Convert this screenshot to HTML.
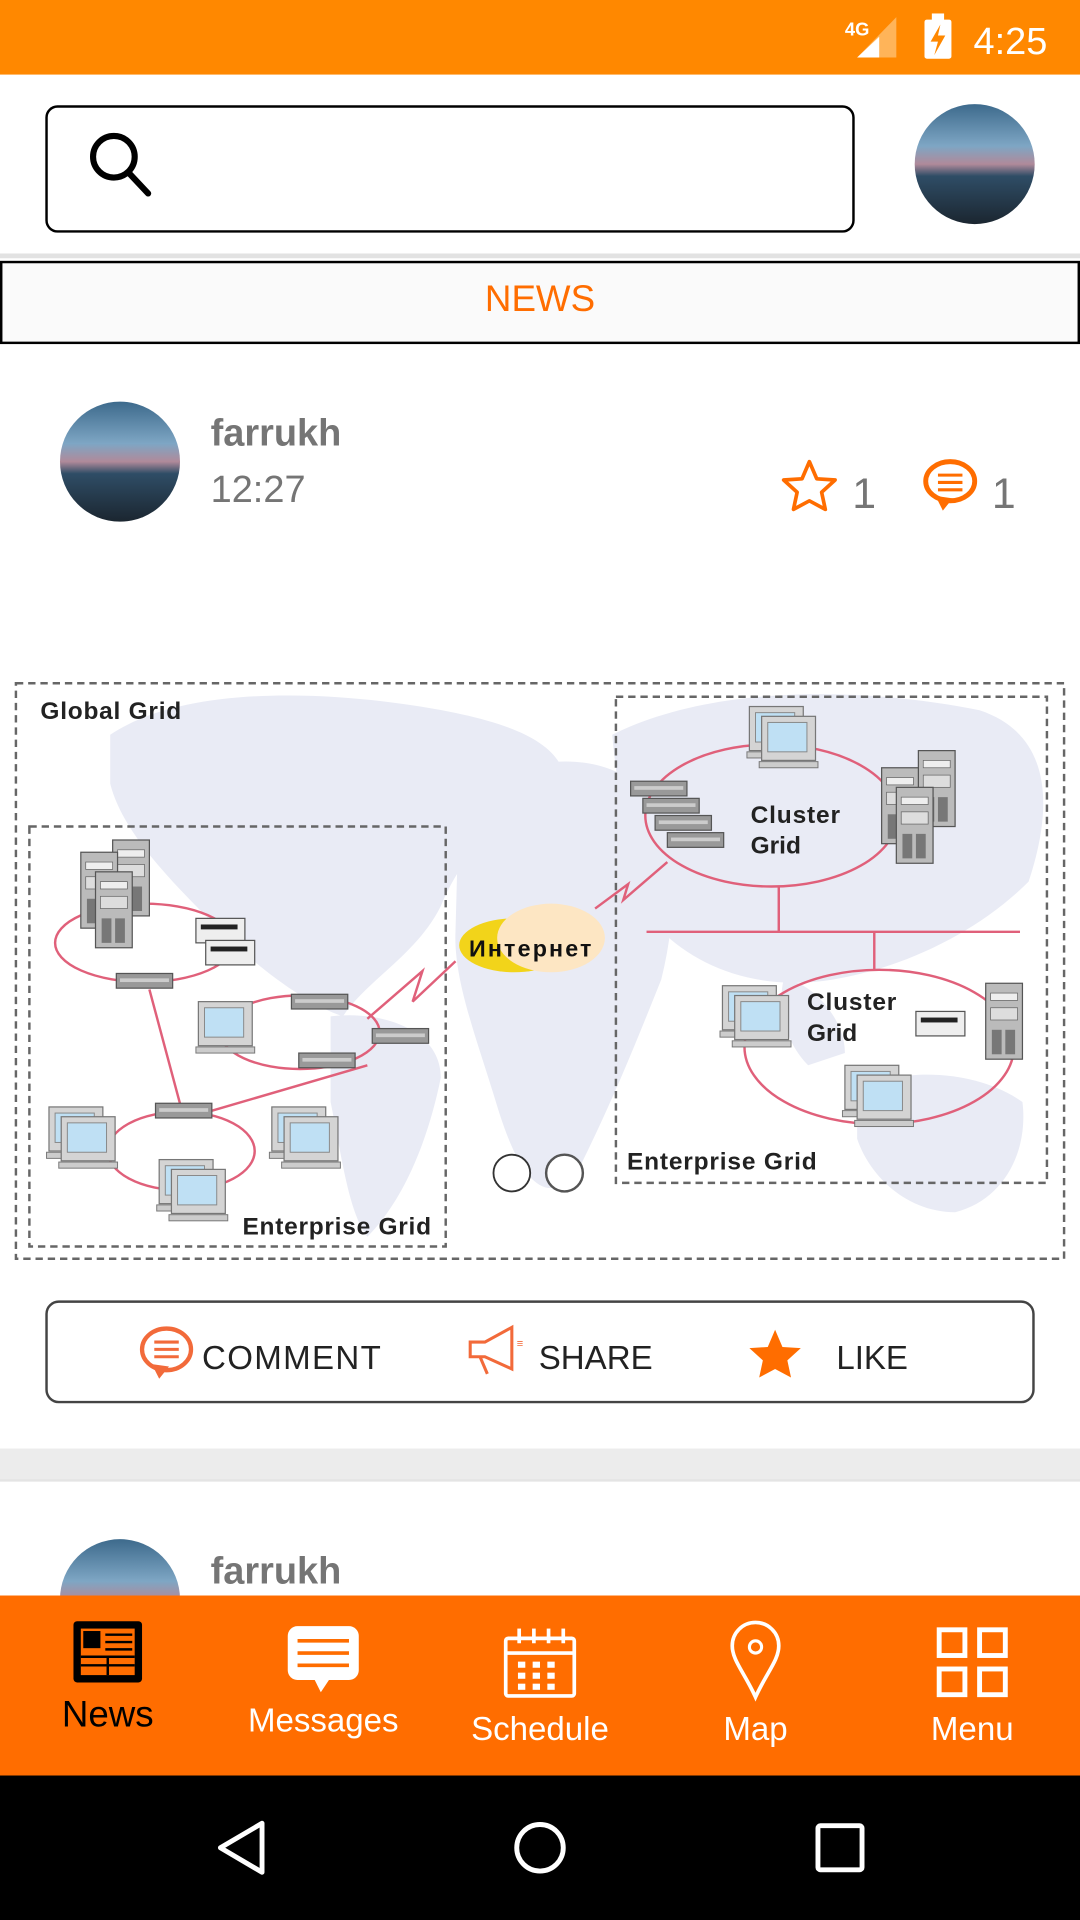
<!DOCTYPE html>
<html><head><meta charset="utf-8"><style>
html,body{margin:0;padding:0;width:1080px;height:1920px;overflow:hidden;background:#fff}
svg{display:block}
text{font-family:"Liberation Sans",sans-serif}
</style></head><body>
<svg width="1080" height="1920" viewBox="0 0 882 1568" xmlns="http://www.w3.org/2000/svg">
<defs>
<linearGradient id="av" x1="0" y1="0" x2="0" y2="1">
<stop offset="0" stop-color="#3d6a8c"/><stop offset="0.35" stop-color="#7ea6c4"/><stop offset="0.5" stop-color="#b08a9a"/><stop offset="0.6" stop-color="#2f4d66"/><stop offset="1" stop-color="#1b2630"/>
</linearGradient>
<g id="pc">
<rect x="0" y="0" width="44" height="36" fill="#d4d4d4" stroke="#777" stroke-width="1"/>
<rect x="5" y="5" width="32" height="24" fill="#bfe0f4" stroke="#888" stroke-width="0.8"/>
<rect x="-2" y="37" width="48" height="5" fill="#ccc" stroke="#777" stroke-width="0.8"/>
</g>
<g id="pc2"><use href="#pc" x="-10" y="-8"/><use href="#pc"/></g>
<g id="srv">
<rect x="0" y="0" width="30" height="62" fill="#bbb" stroke="#555"/>
<rect x="4" y="8" width="22" height="6" fill="#eee" stroke="#666" stroke-width="0.6"/>
<rect x="4" y="20" width="22" height="10" fill="#ddd" stroke="#666" stroke-width="0.6"/>
<rect x="5" y="38" width="8" height="20" fill="#777"/><rect x="16" y="38" width="8" height="20" fill="#777"/>
</g>
<g id="sw"><rect x="0" y="0" width="46" height="12" fill="#999" stroke="#555"/><rect x="3" y="4" width="40" height="3" fill="#ccc"/></g>
<g id="pr"><rect x="0" y="0" width="40" height="20" fill="#eee" stroke="#555"/><rect x="4" y="5" width="30" height="4" fill="#222"/></g>
</defs>

<!-- status bar -->
<rect x="0" y="0" width="882" height="61" fill="#ff8800"/>
<text x="690" y="29" font-size="15" fill="#fff" font-weight="bold">4G</text>
<polygon points="700,47 732,47 732,14" fill="#ffb459"/>
<polygon points="700,47 718,47 718,30" fill="#fff"/>
<rect x="755" y="16" width="22" height="32" rx="2" fill="#fff"/><rect x="761" y="11" width="10" height="6" fill="#fff"/>
<polygon points="768,20 760,34 766,34 763,45 772,29 766,29" fill="#ff8800"/>
<text x="795" y="44" font-size="31" fill="#fff">4:25</text>

<!-- header -->
<rect x="0" y="61" width="882" height="148" fill="#fff"/>
<rect x="0" y="207" width="882" height="4" fill="#e2e2e2"/>
<rect x="38" y="87" width="659" height="102" rx="9" fill="#fff" stroke="#000" stroke-width="2"/>
<circle cx="93" cy="128" r="17" fill="none" stroke="#000" stroke-width="5"/>
<line x1="105" y1="141" x2="121" y2="158" stroke="#000" stroke-width="5" stroke-linecap="round"/>
<circle cx="796" cy="134" r="49" fill="url(#av)"/>

<!-- news tab -->
<rect x="0" y="211" width="882" height="74" fill="#fff"/>
<rect x="1" y="214" width="880" height="66" fill="#fafafa" stroke="#000" stroke-width="2"/>
<text x="441" y="254" font-size="30" fill="#ff6d00" text-anchor="middle">NEWS</text>

<!-- card 1 -->
<rect x="0" y="285" width="882" height="898" fill="#fff"/>
<rect x="0" y="1183" width="882" height="26" fill="#ececec"/>
<circle cx="98" cy="377" r="49" fill="url(#av)"/>
<text x="172" y="364" font-size="31" font-weight="bold" fill="#757575">farrukh</text>
<text x="172" y="410" font-size="31" fill="#757575">12:27</text>
<polygon points="661,377 667,391 682,392 671,402 674,416 661,409 648,416 651,402 640,392 655,391" fill="none" stroke="#ff6d00" stroke-width="3" stroke-linejoin="round"/>
<text x="696" y="415" font-size="35" fill="#757575">1</text>
<ellipse cx="776" cy="393" rx="20" ry="16" fill="none" stroke="#ff6d00" stroke-width="4"/>
<polygon points="764,405 770,417 778,407" fill="#ff6d00"/>
<line x1="766" y1="388" x2="786" y2="388" stroke="#ff6d00" stroke-width="2.5"/><line x1="766" y1="394" x2="786" y2="394" stroke="#ff6d00" stroke-width="2.5"/><line x1="766" y1="400" x2="786" y2="400" stroke="#ff6d00" stroke-width="2.5"/>
<text x="810" y="415" font-size="35" fill="#757575">1</text>

<!-- diagram -->
<g>
<g fill="#e9ebf5">
<path d="M90,600 C150,560 260,565 330,575 C400,585 450,600 460,630 C420,660 380,690 360,740 C340,780 300,800 280,830 C250,820 210,790 180,760 C140,720 100,680 90,640 Z"/>
<path d="M270,830 C310,825 360,840 360,880 C350,930 330,980 300,1010 C285,990 280,950 270,900 Z"/>
<path d="M375,650 C420,620 480,610 520,640 C560,690 550,760 540,800 C520,850 500,900 470,960 C440,990 420,950 405,900 C390,850 370,800 372,760 Z"/>
<path d="M500,600 C580,560 700,560 800,580 C860,600 860,660 840,720 C800,760 740,790 680,800 C620,810 570,790 540,760 C520,720 505,660 500,600 Z"/>
<path d="M700,890 C740,870 800,875 835,900 C840,940 820,980 780,990 C740,990 710,960 700,930 Z"/>
<path d="M640,800 C660,800 690,830 690,860 L660,870 C640,850 635,820 640,800Z"/>
</g>
<rect x="13" y="558" width="856" height="470" fill="none" stroke="#666" stroke-width="2" stroke-dasharray="6,4"/>
<rect x="24" y="675" width="340" height="343" fill="none" stroke="#666" stroke-width="2" stroke-dasharray="6,4"/>
<rect x="503" y="569" width="352" height="397" fill="none" stroke="#666" stroke-width="2" stroke-dasharray="6,4"/>
<g fill="none" stroke="#e0607a" stroke-width="2">
<ellipse cx="118" cy="770" rx="73" ry="32"/>
<ellipse cx="245" cy="843" rx="65" ry="30"/>
<ellipse cx="148" cy="940" rx="60" ry="32"/>
<line x1="122" y1="808" x2="148" y2="905"/>
<line x1="170" y1="908" x2="300" y2="870"/>
<polyline points="300,832 345,793 337,818 372,785"/>
<ellipse cx="630" cy="666" rx="103" ry="58"/>
<ellipse cx="718" cy="855" rx="110" ry="63"/>
<line x1="528" y1="761" x2="833" y2="761"/>
<line x1="636" y1="724" x2="636" y2="761"/>
<line x1="714" y1="761" x2="714" y2="792"/>
<polyline points="486,742 513,722 509,735 545,704"/>
</g>
<!-- cloud -->
<ellipse cx="420" cy="772" rx="45" ry="22" fill="#f2d41a"/>
<ellipse cx="450" cy="766" rx="44" ry="28" fill="#fde6c3"/>
<text x="383" y="781" font-size="19" font-weight="bold" fill="#111" textLength="100">Интернет</text>
<!-- devices left -->
<use href="#srv" x="92" y="686"/><use href="#srv" x="66" y="696"/><use href="#srv" x="78" y="712"/>
<use href="#pr" x="160" y="750"/><use href="#pr" x="168" y="768"/>
<use href="#sw" x="95" y="795"/>
<use href="#pc" x="162" y="818"/>
<use href="#sw" x="238" y="812"/><use href="#sw" x="304" y="840"/><use href="#sw" x="244" y="860"/>
<use href="#sw" x="127" y="901"/>
<use href="#pc2" x="50" y="912"/><use href="#pc2" x="140" y="955"/><use href="#pc2" x="232" y="912"/>
<!-- devices right -->
<use href="#pc2" x="622" y="585"/>
<use href="#sw" x="515" y="638"/><use href="#sw" x="525" y="652"/><use href="#sw" x="535" y="666"/><use href="#sw" x="545" y="680"/>
<use href="#srv" x="750" y="613"/><use href="#srv" x="720" y="627"/><use href="#srv" x="732" y="643"/>
<use href="#pc2" x="600" y="813"/>
<use href="#pr" x="748" y="826"/>
<use href="#srv" x="805" y="803"/>
<use href="#pc2" x="700" y="878"/>
<g font-weight="bold" fill="#222" font-size="20">
<text x="33" y="587" textLength="115">Global Grid</text>
<text x="198" y="1008" textLength="154">Enterprise Grid</text>
<text x="512" y="955" textLength="155">Enterprise Grid</text>
<text x="613" y="672" textLength="73">Cluster</text><text x="613" y="697">Grid</text>
<text x="659" y="825" textLength="73">Cluster</text><text x="659" y="850">Grid</text>
</g>
<circle cx="418" cy="958" r="15" fill="#fff" stroke="#333" stroke-width="1.5"/>
<circle cx="461" cy="958" r="15" fill="#fff" stroke="#555" stroke-width="2"/>
</g>

<!-- action bar -->
<rect x="38" y="1063" width="806" height="82" rx="10" fill="#fff" stroke="#444" stroke-width="2"/>
<ellipse cx="136" cy="1102" rx="20" ry="17" fill="none" stroke="#f26a3a" stroke-width="3.5"/>
<polygon points="124,1114 130,1126 138,1116" fill="#f26a3a"/>
<line x1="126" y1="1096" x2="146" y2="1096" stroke="#f26a3a" stroke-width="2.5"/><line x1="126" y1="1102" x2="146" y2="1102" stroke="#f26a3a" stroke-width="2.5"/><line x1="126" y1="1108" x2="146" y2="1108" stroke="#f26a3a" stroke-width="2.5"/>
<text x="165" y="1118" font-size="27" fill="#222" textLength="146">COMMENT</text>
<path d="M384,1096 L396,1096 L418,1084 L418,1118 L396,1108 L384,1108 Z M392,1108 L398,1122" fill="none" stroke="#f26a3a" stroke-width="2.5"/>
<text x="422" y="1100" font-size="9" fill="#f26a3a">≡</text>
<text x="440" y="1118" font-size="27" fill="#222">SHARE</text>
<polygon points="633,1086 639,1100 654,1101 643,1111 646,1125 633,1118 620,1125 623,1111 612,1101 627,1100" fill="#ff6d00"/>
<text x="683" y="1118" font-size="27" fill="#222">LIKE</text>

<!-- card 2 -->
<rect x="0" y="1209" width="882" height="94" fill="#fff"/>
<rect x="0" y="1208" width="882" height="2" fill="#e4e4e4"/>
<circle cx="98" cy="1306" r="49" fill="url(#av)"/>
<text x="172" y="1293" font-size="31" font-weight="bold" fill="#757575">farrukh</text>

<!-- bottom nav -->
<rect x="0" y="1303" width="882" height="148" fill="#ff6d00"/>
<rect x="60" y="1324" width="56" height="50" rx="3" fill="#000"/>
<rect x="66" y="1330" width="44" height="38" fill="#ff6d00"/>
<rect x="68" y="1332" width="14" height="14" fill="#000"/>
<g stroke="#000" stroke-width="2"><line x1="86" y1="1335" x2="108" y2="1335"/><line x1="86" y1="1341" x2="108" y2="1341"/><line x1="86" y1="1347" x2="108" y2="1347"/><line x1="66" y1="1353" x2="110" y2="1353"/><line x1="66" y1="1360" x2="110" y2="1360"/><line x1="88" y1="1353" x2="88" y2="1368"/></g>
<text x="88" y="1410" font-size="30" fill="#000" text-anchor="middle">News</text>
<rect x="235" y="1328" width="58" height="44" rx="8" fill="#fff"/>
<polygon points="256,1370 270,1370 262,1382" fill="#fff"/>
<g stroke="#ff6d00" stroke-width="3"><line x1="243" y1="1340" x2="285" y2="1340"/><line x1="243" y1="1350" x2="285" y2="1350"/><line x1="243" y1="1360" x2="285" y2="1360"/></g>
<text x="264" y="1414" font-size="27" fill="#fff" text-anchor="middle">Messages</text>
<rect x="413" y="1338" width="56" height="47" rx="2" fill="none" stroke="#fff" stroke-width="3"/>
<line x1="413" y1="1350" x2="469" y2="1350" stroke="#fff" stroke-width="3"/>
<g stroke="#fff" stroke-width="3"><line x1="424" y1="1330" x2="424" y2="1342"/><line x1="436" y1="1330" x2="436" y2="1342"/><line x1="448" y1="1330" x2="448" y2="1342"/><line x1="460" y1="1330" x2="460" y2="1342"/></g>
<g fill="#fff"><rect x="423" y="1357" width="6" height="5"/><rect x="435" y="1357" width="6" height="5"/><rect x="447" y="1357" width="6" height="5"/><rect x="423" y="1366" width="6" height="5"/><rect x="435" y="1366" width="6" height="5"/><rect x="447" y="1366" width="6" height="5"/><rect x="423" y="1375" width="6" height="5"/><rect x="435" y="1375" width="6" height="5"/><rect x="447" y="1375" width="6" height="5"/></g>
<text x="441" y="1421" font-size="27" fill="#fff" text-anchor="middle">Schedule</text>
<path d="M617,1386 C608,1366 598,1356 598,1344 A19,19 0 0 1 636,1344 C636,1356 626,1366 617,1386 Z" fill="none" stroke="#fff" stroke-width="3"/>
<circle cx="617" cy="1345" r="5" fill="none" stroke="#fff" stroke-width="2.5"/>
<text x="617" y="1421" font-size="27" fill="#fff" text-anchor="middle">Map</text>
<g fill="none" stroke="#fff" stroke-width="4"><rect x="767" y="1331" width="21" height="21"/><rect x="800" y="1331" width="21" height="21"/><rect x="767" y="1363" width="21" height="21"/><rect x="800" y="1363" width="21" height="21"/></g>
<text x="794" y="1421" font-size="27" fill="#fff" text-anchor="middle">Menu</text>

<!-- system nav -->
<rect x="0" y="1450" width="882" height="118" fill="#000"/>
<polygon points="214,1489 214,1529 180,1509" fill="none" stroke="#fff" stroke-width="4" stroke-linejoin="round"/>
<circle cx="441" cy="1509" r="19" fill="none" stroke="#fff" stroke-width="4"/>
<rect x="668" y="1491" width="36" height="36" rx="2" fill="none" stroke="#fff" stroke-width="4"/>
</svg>
</body></html>
